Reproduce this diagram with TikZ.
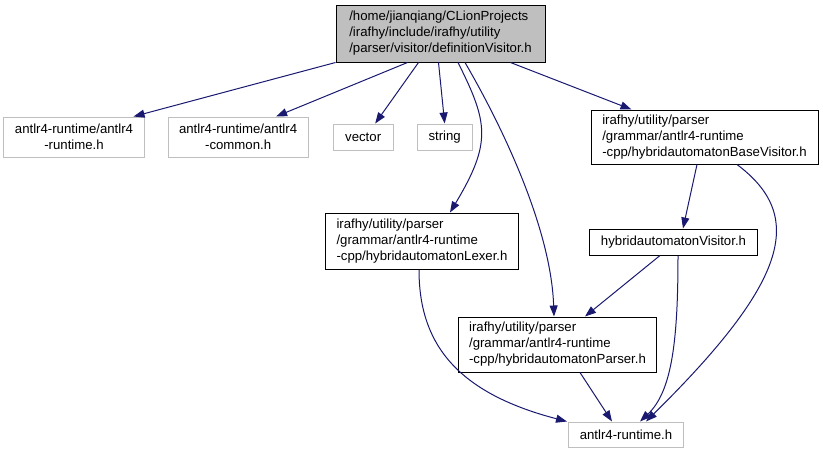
\documentclass[tikz,border=0pt]{standalone}
\usepackage{fontspec}
\setmainfont{Liberation Sans}
\usetikzlibrary{arrows.meta,positioning}
\definecolor{edgeblue}{HTML}{191970}
\definecolor{extgray}{HTML}{BFBFBF}
\definecolor{rootfill}{HTML}{BFBFBF}

\begin{document}
\begin{tikzpicture}[
      x=1pt, y=-1pt,
      every node/.style={font=\fontsize{13.2}{16}\selectfont, inner xsep=11pt, inner ysep=3pt, minimum height=26pt},
      file/.style={rectangle, draw=black, line width=1pt, align=left},
      rootfile/.style={file, fill=rootfill},
      extfile/.style={rectangle, draw=extgray, line width=1pt, align=center},
      dep/.style={-{Triangle[length=11pt,width=8pt]}, edgeblue, line width=1pt}
    ]
      \useasboundingbox (0,0) rectangle (823,453);

      % the file itself
      \node[rootfile, minimum width=209pt, minimum height=57pt] (root) at (440.5,33.5) {/home/jianqiang/CLionProjects\\/irafhy/include/irafhy/utility\\/parser/visitor/definitionVisitor.h};

      % direct includes
      \node[extfile, minimum width=138pt, minimum height=40pt] (rt) at (74,137) {antlr4-runtime/antlr4\\-runtime.h};
      \node[extfile, minimum width=138pt, minimum height=40pt, right=23pt of rt] (common) {antlr4-runtime/antlr4\\-common.h};
      \node[extfile, minimum width=60pt, right=24pt of common] (vector) {vector};
      \node[extfile, minimum width=55pt, right=23pt of vector] (string) {string};
      \node[file, minimum width=227pt, minimum height=54pt] (base) at (704.5,137) {irafhy/utility/parser\\/grammar/antlr4-runtime\\-cpp/hybridautomatonBaseVisitor.h};
      \node[file, minimum width=192pt, minimum height=56pt] (lexer) at (422,241) {irafhy/utility/parser\\/grammar/antlr4-runtime\\-cpp/hybridautomatonLexer.h};
      \node[file, minimum width=167pt] (visitor) at (673.5,242) {hybridautomatonVisitor.h};
      \node[file, minimum width=197pt, minimum height=55pt] (parser) at (557.5,344.5) {irafhy/utility/parser\\/grammar/antlr4-runtime\\-cpp/hybridautomatonParser.h};
      \node[extfile, minimum width=112pt, minimum height=25pt] (antlr) at (626,434.5) {antlr4-runtime.h};

      % include edges
      \draw[dep] (root.south west) -- ([xshift=-11pt]rt.north east);
      \draw[dep] ([xshift=-33pt]root.south) -- ([xshift=38pt]common.north);
      \draw[dep] ([xshift=-22pt]root.south) -- ([xshift=12pt]vector.north);
      \draw[dep] ([xshift=-2pt]root.south) -- (string.north);
      \draw[dep] ([xshift=17.5pt]root.south) .. controls +(30,60) and +(42,-70) .. ([xshift=28pt]lexer.north);
      \draw[dep] ([xshift=24.5pt]root.south) .. controls +(35,60) and +(-3,-90) .. ([xshift=-3.5pt]parser.north);
      \draw[dep] ([xshift=-35pt]root.south east) -- ([xshift=41pt]base.north west);
      \draw[dep] ([xshift=-7.5pt]base.south) -- ([xshift=9.5pt]visitor.north);
      \draw[dep] ([xshift=32.5pt]base.south) .. controls +(68,51) and +(144,-142) .. ([xshift=20pt]antlr.north);
      \draw[dep] ([xshift=-13.5pt]visitor.south) -- ([xshift=27.5pt]parser.north);
      \draw[dep] ([xshift=4.5pt]visitor.south) .. controls +(0,85) and +(32,-30) .. ([xshift=14pt]antlr.north);
      \draw[dep] ([xshift=-3pt]lexer.south) .. controls +(0,70) and +(-115,-30) .. ([xshift=-59pt]antlr.north);
      \draw[dep] ([xshift=22.5pt]parser.south) -- ([xshift=-14pt]antlr.north);
    \end{tikzpicture}
\end{document}
